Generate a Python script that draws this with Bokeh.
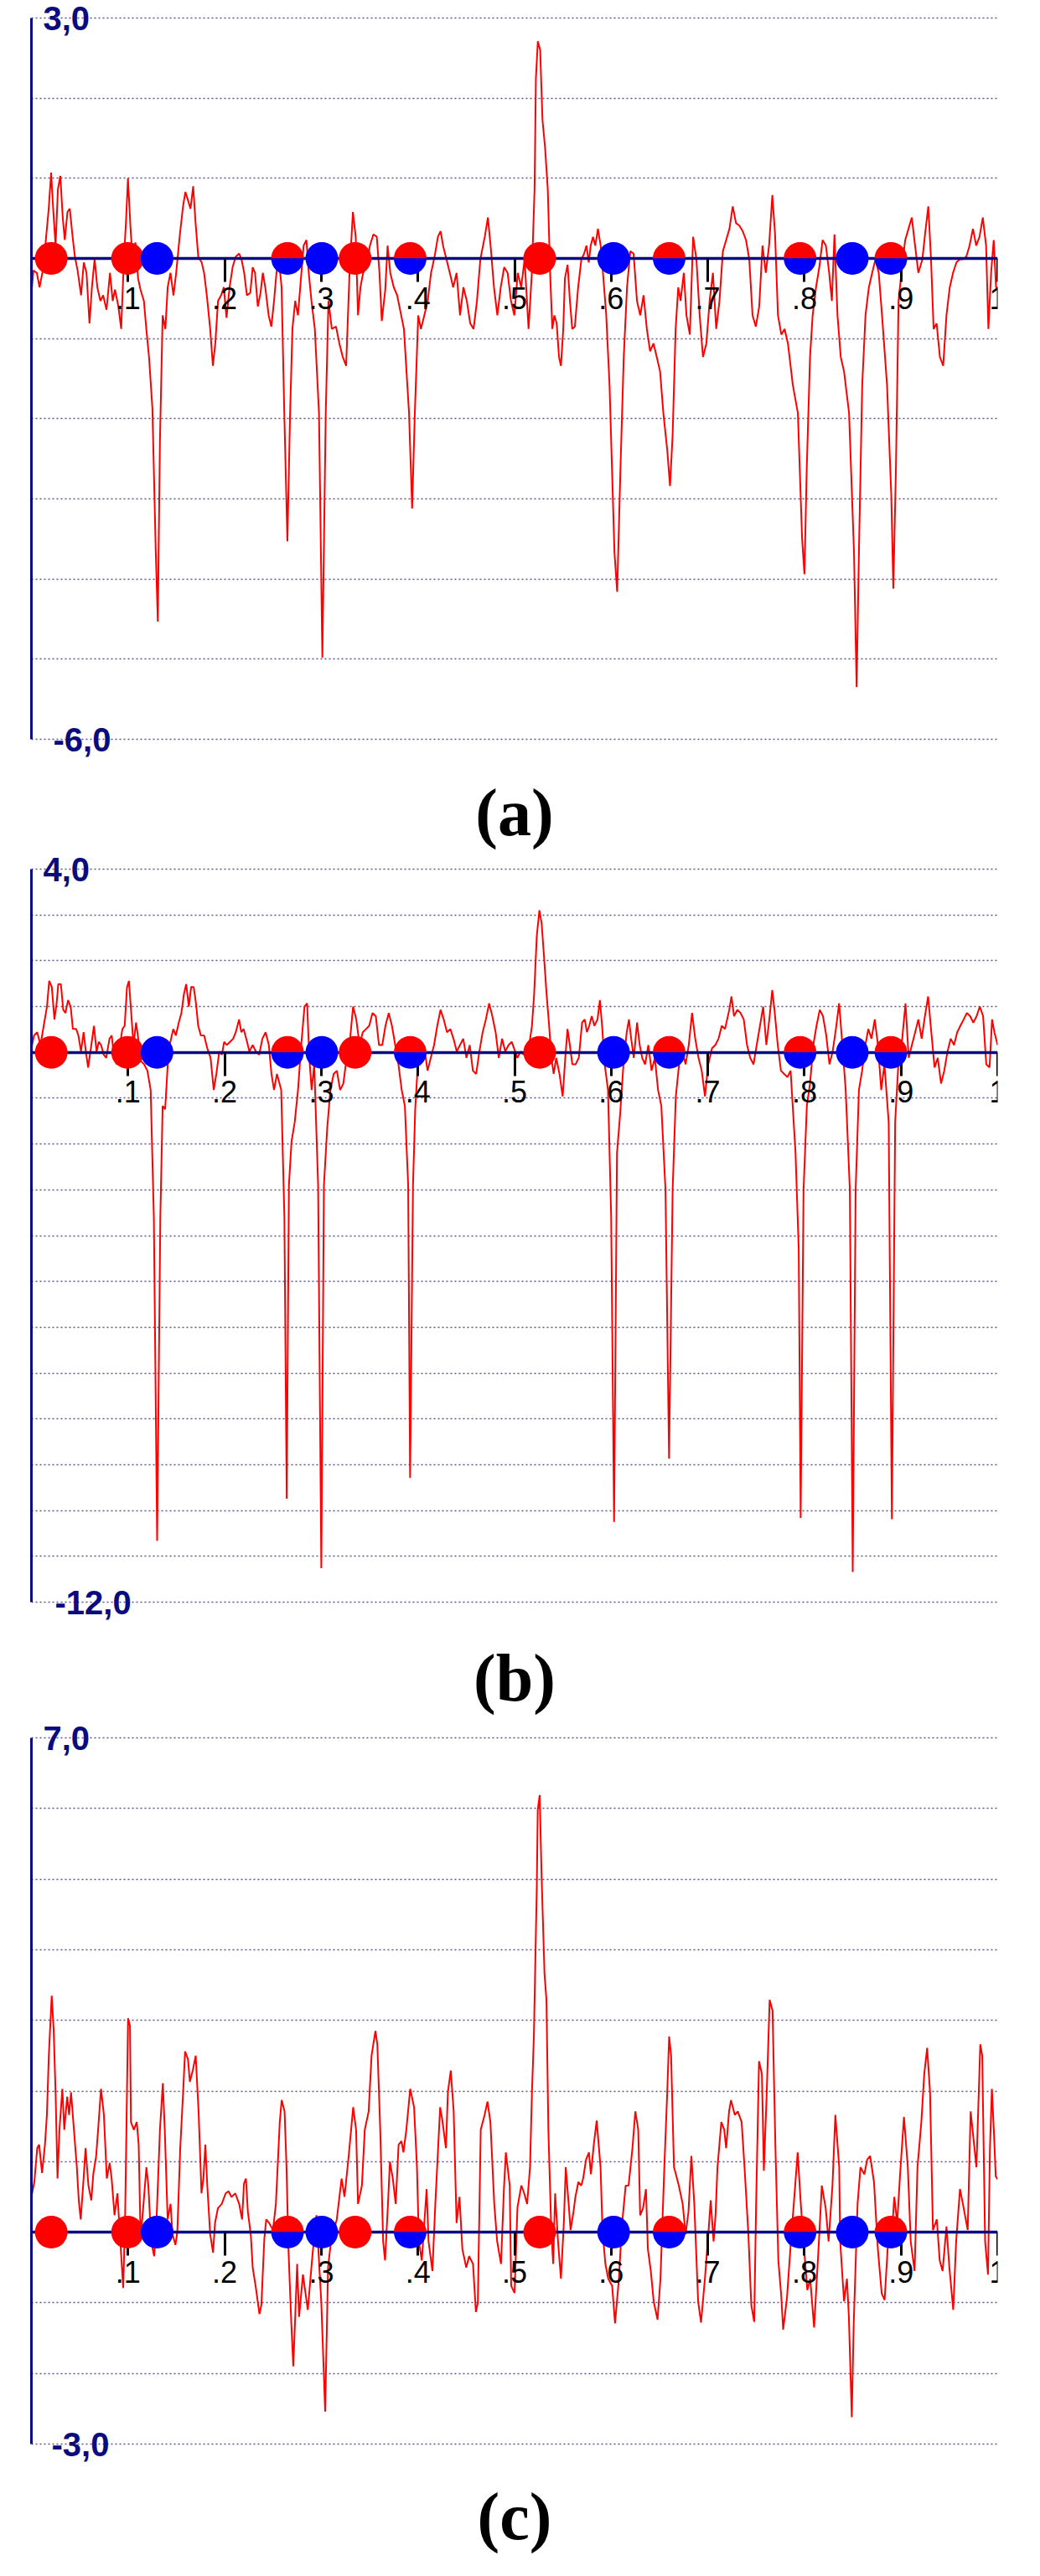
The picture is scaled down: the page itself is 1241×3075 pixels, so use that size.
import math
from bokeh.plotting import figure
from bokeh.models import LinearAxis, FixedTicker, Grid, Label
from bokeh.layouts import column
from bokeh.embed import file_html
from bokeh.resources import INLINE

# ---------------- data ----------------
x_ticks = [0.1, 0.2, 0.3, 0.4, 0.5, 0.6, 0.7, 0.8, 0.9, 1.0]
x_tick_labels = [".1", ".2", ".3", ".4", ".5", ".6", ".7", ".8", ".9", "1"]

marker_x = [0.0205, 0.0995, 0.130, 0.265, 0.3005, 0.335, 0.392, 0.526, 0.6025, 0.660, 0.7955, 0.8495, 0.8895]
marker_kind = ["red", "red", "blue", "half", "blue", "red", "half", "red", "blue", "half", "half", "blue", "half"]

a_y_ticks = [3, -6]
a_y_labels = ["3,0", "-6,0"]
b_y_ticks = [4, -12]
b_y_labels = ["4,0", "-12,0"]
c_y_ticks = [7, -3]
c_y_labels = ["7,0", "-3,0"]

captions = ["(a)", "(b)", "(c)"]

a_signal = [
(0.0,-0.43),(0.0021,-0.15),(0.0056,-0.18),(0.0084,-0.36),(0.0113,-0.18),(0.0144,0.16),(0.0179,0.62),(0.0204,1.07),(0.0225,0.62),(0.025,0.16),(0.0274,0.86),(0.0299,1.03),(0.0324,0.51),(0.0345,0.23),(0.0373,0.58),(0.0397,0.62),(0.0426,0.27),(0.045,0.02),(0.0478,-0.15),(0.0514,-0.46),(0.0542,-0.05),(0.057,-0.18),(0.0601,-0.81),(0.0626,-0.36),(0.0654,-0.01),(0.0682,-0.36),(0.0714,-0.53),(0.0742,-0.46),(0.0777,-0.64),(0.0813,-0.18),(0.0841,-0.53),(0.0865,-0.39),(0.09,-0.6),(0.0929,-0.88),(0.0957,-0.01),(0.0978,0.44),(0.0999,1.0),(0.1024,0.41),(0.1048,-0.05),(0.1076,0.2),(0.1104,-0.25),(0.1129,-0.39),(0.1164,-0.53),(0.1189,-0.88),(0.1217,-1.23),(0.1252,-1.87),(0.1287,-3.67),(0.1308,-4.53),(0.133,-2.28),(0.1358,-0.71),(0.1386,-0.88),(0.141,-0.36),(0.1439,-0.18),(0.147,-0.46),(0.1498,-0.18),(0.1534,0.27),(0.1569,0.65),(0.1593,0.83),(0.1622,0.72),(0.1646,0.62),(0.1674,0.9),(0.1699,0.44),(0.1727,0.02),(0.1762,-0.05),(0.1787,-0.18),(0.1815,-0.46),(0.185,-0.88),(0.1878,-1.34),(0.1903,-1.06),(0.1931,-0.53),(0.1963,-0.46),(0.1991,-0.36),(0.2019,-0.74),(0.2051,-0.36),(0.2082,-0.11),(0.2114,0.02),(0.2149,0.06),(0.2174,-0.01),(0.2202,-0.18),(0.223,-0.46),(0.2265,-0.43),(0.229,-0.11),(0.2314,-0.18),(0.2343,-0.6),(0.2371,-0.43),(0.2395,-0.18),(0.242,-0.36),(0.2455,-0.71),(0.2483,-0.85),(0.2511,-0.53),(0.2536,-0.18),(0.2561,-0.01),(0.2589,-0.36),(0.2617,-1.93),(0.2649,-3.53),(0.2677,-1.93),(0.2701,-0.88),(0.273,-0.53),(0.2758,-0.71),(0.2782,-0.36),(0.2817,0.16),(0.2846,0.23),(0.287,-0.18),(0.2898,-0.53),(0.2933,-0.88),(0.2976,-1.93),(0.3011,-4.98),(0.3046,-1.93),(0.3074,-0.53),(0.3109,-0.88),(0.3152,-0.85),(0.3187,-1.06),(0.3222,-1.23),(0.3257,-1.34),(0.3292,-0.18),(0.3327,0.58),(0.3356,0.27),(0.338,-0.71),(0.3405,-0.36),(0.3433,-0.18),(0.3468,-0.11),(0.3503,0.16),(0.3539,0.3),(0.3574,0.27),(0.3602,-0.18),(0.3626,-0.78),(0.3662,-0.39),(0.3686,0.16),(0.3714,-0.18),(0.375,-0.36),(0.3785,-0.46),(0.382,-0.67),(0.3855,-0.88),(0.3908,-1.93),(0.394,-3.12),(0.3968,-1.93),(0.4003,-0.71),(0.4031,-0.88),(0.4066,-0.71),(0.4101,-0.53),(0.4136,-0.18),(0.4172,0.02),(0.4207,0.27),(0.4235,0.34),(0.426,0.16),(0.4295,-0.01),(0.433,-0.18),(0.4365,-0.36),(0.44,-0.18),(0.4436,-0.71),(0.4471,-0.36),(0.4506,-0.53),(0.4541,-0.81),(0.4576,-0.88),(0.4611,-0.53),(0.4646,-0.01),(0.4692,0.27),(0.4724,0.51),(0.4752,0.16),(0.4787,-0.36),(0.4822,-0.71),(0.4857,-0.36),(0.4893,-0.11),(0.4928,-0.18),(0.4963,-0.53),(0.4998,-0.71),(0.5033,-0.18),(0.5069,-0.36),(0.5104,-0.01),(0.5145,-0.88),(0.5179,-0.18),(0.5207,0.86),(0.5221,2.25),(0.5241,2.71),(0.5265,2.6),(0.5289,1.73),(0.5316,1.38),(0.5344,0.86),(0.5368,-0.18),(0.5391,-0.88),(0.5412,-0.71),(0.5436,-0.81),(0.546,-1.23),(0.548,-1.34),(0.5504,-0.88),(0.5521,-0.25),(0.5549,-0.08),(0.5573,-0.53),(0.5597,-0.88),(0.5624,-0.85),(0.5658,-0.36),(0.5692,-0.01),(0.572,0.06),(0.5744,0.16),(0.5768,-0.05),(0.5788,0.16),(0.5812,0.27),(0.5836,0.16),(0.5863,0.37),(0.5891,0.16),(0.5915,-0.18),(0.5949,-0.71),(0.5983,-1.58),(0.6034,-3.67),(0.6062,-4.16),(0.6096,-2.62),(0.613,-1.23),(0.6164,-0.36),(0.6198,0.09),(0.6232,0.06),(0.6267,-0.53),(0.6301,-0.71),(0.6335,-0.46),(0.6369,-0.88),(0.6403,-1.16),(0.6438,-1.06),(0.6472,-1.23),(0.6506,-1.41),(0.654,-1.93),(0.6581,-2.4),(0.6609,-2.84),(0.6636,-2.2),(0.6667,-0.88),(0.6694,-0.36),(0.6718,-0.53),(0.6752,-0.18),(0.6779,-0.71),(0.6814,-0.95),(0.6848,0.27),(0.6882,-0.01),(0.6916,-0.71),(0.695,-1.23),(0.6985,-1.06),(0.7019,-0.53),(0.7053,-0.18),(0.7087,-0.88),(0.7121,-0.53),(0.7156,0.09),(0.719,0.23),(0.7224,0.37),(0.7258,0.65),(0.7292,0.44),(0.7326,0.41),(0.7361,0.34),(0.7395,0.23),(0.7429,-0.01),(0.7463,-0.71),(0.7497,-0.85),(0.7532,-0.6),(0.7566,0.16),(0.76,-0.18),(0.7634,0.16),(0.7668,0.79),(0.7696,0.3),(0.7726,-0.71),(0.7761,-0.95),(0.7795,-0.88),(0.7829,-1.06),(0.788,-1.58),(0.7932,-1.93),(0.7976,-3.5),(0.8,-3.94),(0.8024,-2.62),(0.8058,-1.23),(0.8085,-0.71),(0.812,-0.36),(0.8154,-0.11),(0.8188,0.23),(0.8222,0.16),(0.8256,-0.18),(0.8284,-0.53),(0.8311,0.3),(0.8342,-0.71),(0.8376,-1.23),(0.841,-1.41),(0.8462,-1.93),(0.8513,-3.67),(0.854,-5.35),(0.8564,-3.67),(0.8598,-1.58),(0.8632,-0.71),(0.8667,-0.36),(0.8701,-0.18),(0.8735,-0.01),(0.8769,-0.18),(0.8803,-0.71),(0.8855,-1.58),(0.8899,-2.96),(0.892,-4.12),(0.8947,-2.62),(0.8974,-0.53),(0.9015,-0.05),(0.9043,0.23),(0.9077,0.37),(0.9111,0.51),(0.9145,0.16),(0.9179,-0.18),(0.9221,-0.01),(0.9248,0.3),(0.9282,0.65),(0.931,-0.01),(0.9337,-0.88),(0.9368,-0.81),(0.9402,-1.23),(0.9436,-1.34),(0.947,-0.71),(0.9504,-0.36),(0.9538,-0.18),(0.9573,-0.05),(0.9607,-0.01),(0.9641,-0.01),(0.9675,0.02),(0.9709,0.16),(0.9744,0.37),(0.9778,0.16),(0.9812,0.27),(0.9846,0.51),(0.988,0.16),(0.9904,-0.88),(0.9932,-0.18),(0.9959,0.23),(0.9983,-0.36),(1.0,-0.36)]

b_signal = [
(0.0,0.09),(0.0027,0.37),(0.006,0.44),(0.0094,0.16),(0.0127,0.58),(0.0161,1.0),(0.0184,1.56),(0.0211,1.43),(0.0238,0.72),(0.0261,1.07),(0.0278,1.49),(0.0305,1.49),(0.0329,0.93),(0.0352,0.86),(0.0379,1.14),(0.0406,1.0),(0.0429,0.51),(0.0463,0.51),(0.0486,0.37),(0.0513,0.02),(0.054,0.44),(0.0563,0.02),(0.0587,-0.33),(0.062,0.16),(0.0647,0.58),(0.0674,0.02),(0.0697,0.23),(0.0721,0.16),(0.0748,-0.05),(0.0774,-0.12),(0.0808,0.3),(0.0831,0.37),(0.0855,-0.12),(0.0882,-0.26),(0.0915,0.16),(0.0942,0.51),(0.0965,0.58),(0.0989,1.42),(0.1009,1.56),(0.1033,0.86),(0.1056,0.16),(0.1083,0.65),(0.111,0.23),(0.1133,-0.19),(0.1167,-0.26),(0.12,-0.4),(0.1234,-0.82),(0.1267,-3.6),(0.1301,-10.66),(0.1334,-3.6),(0.1358,-1.17),(0.1384,-1.24),(0.1411,-0.26),(0.1438,0.23),(0.1468,0.51),(0.1495,0.37),(0.1525,0.65),(0.1552,0.86),(0.1579,1.28),(0.1602,1.49),(0.1629,1.0),(0.1653,1.43),(0.168,1.42),(0.1703,1.07),(0.1726,0.58),(0.1753,0.37),(0.1787,0.37),(0.182,0.09),(0.1854,-0.12),(0.1887,-0.82),(0.1914,-0.47),(0.1944,0.02),(0.1971,-0.05),(0.1995,0.23),(0.2021,0.16),(0.2055,0.23),(0.2088,0.3),(0.2115,0.44),(0.2149,0.72),(0.2172,0.44),(0.2196,0.51),(0.2223,0.3),(0.2256,0.02),(0.229,0.16),(0.2323,0.02),(0.2357,-0.05),(0.239,0.3),(0.2424,0.44),(0.2457,0.16),(0.2484,-0.47),(0.2511,-0.82),(0.2541,-0.47),(0.2585,-0.82),(0.2618,-3.6),(0.2642,-9.74),(0.2665,-2.9),(0.2692,-1.94),(0.2725,-1.52),(0.2759,-0.82),(0.2792,0.16),(0.2826,1.0),(0.2853,1.07),(0.2876,-0.12),(0.29,-0.82),(0.2927,-0.26),(0.2967,-2.9),(0.3,-11.26),(0.3027,-2.9),(0.3061,-1.66),(0.3094,-0.82),(0.3128,-0.47),(0.3161,-0.4),(0.3195,-0.82),(0.3228,-0.68),(0.3262,-0.12),(0.3295,0.23),(0.3329,1.0),(0.3362,0.72),(0.3396,0.16),(0.3429,0.44),(0.3463,0.51),(0.3496,0.58),(0.353,0.86),(0.3564,0.79),(0.3597,0.16),(0.3631,0.16),(0.3664,0.58),(0.3698,0.86),(0.3731,0.58),(0.3765,0.16),(0.3798,-0.26),(0.3832,-0.82),(0.3865,-1.17),(0.3899,-2.9),(0.3919,-9.29),(0.3949,-2.9),(0.3972,-1.24),(0.3999,-0.26),(0.4033,-0.12),(0.4066,0.09),(0.41,-0.4),(0.4133,-0.12),(0.4167,0.16),(0.42,0.58),(0.4234,0.93),(0.4267,0.72),(0.4301,0.44),(0.4335,0.51),(0.4368,0.3),(0.4402,0.02),(0.4435,0.16),(0.4469,0.3),(0.4502,-0.12),(0.4536,0.16),(0.4569,-0.4),(0.4603,-0.47),(0.4636,0.02),(0.467,0.44),(0.4703,0.72),(0.4737,1.07),(0.477,0.79),(0.4804,0.44),(0.4837,-0.12),(0.4871,0.3),(0.4904,0.02),(0.4938,0.16),(0.4971,0.23),(0.5029,-0.12),(0.5063,0.02),(0.5096,-0.05),(0.5147,0.09),(0.518,0.58),(0.5203,1.28),(0.523,2.54),(0.5257,3.1),(0.528,2.82),(0.5304,2.12),(0.5331,1.28),(0.5358,0.58),(0.5381,-0.12),(0.5405,-0.47),(0.5431,-0.12),(0.5465,-0.47),(0.5498,-0.96),(0.5525,-0.12),(0.5548,0.51),(0.5572,0.16),(0.5598,-0.26),(0.5632,-0.26),(0.5665,-0.12),(0.5699,0.65),(0.5726,0.72),(0.5749,0.44),(0.5773,0.58),(0.5799,0.79),(0.5826,0.58),(0.5859,0.72),(0.5883,1.14),(0.5906,0.58),(0.5933,-0.26),(0.5967,-0.82),(0.6,-3.6),(0.603,-10.25),(0.606,-2.2),(0.6094,-1.31),(0.6127,-0.26),(0.6161,0.44),(0.6184,0.72),(0.6207,0.3),(0.6234,-0.12),(0.6268,0.65),(0.6295,0.16),(0.6321,-0.12),(0.6351,-0.26),(0.6385,0.16),(0.6418,-0.4),(0.6452,-0.12),(0.6485,-0.82),(0.6519,-1.17),(0.6562,-3.0),(0.6599,-8.87),(0.6636,-3.0),(0.6669,-0.96),(0.6703,-0.26),(0.6737,0.02),(0.677,-0.26),(0.6803,0.16),(0.6837,0.86),(0.687,0.3),(0.6904,-0.12),(0.6937,-0.4),(0.6971,-0.96),(0.7004,-0.26),(0.7044,0.09),(0.7078,0.16),(0.7111,0.3),(0.7145,0.58),(0.7178,0.51),(0.7222,0.93),(0.7245,1.22),(0.7272,0.79),(0.7306,0.93),(0.7339,0.86),(0.7372,0.72),(0.7406,0.16),(0.7439,-0.12),(0.7473,-0.26),(0.7506,0.16),(0.754,0.58),(0.7573,1.0),(0.7606,0.16),(0.764,0.79),(0.7667,1.36),(0.769,0.93),(0.7724,0.16),(0.7757,-0.4),(0.779,-0.47),(0.7824,-0.54),(0.7857,-0.4),(0.7908,-2.2),(0.7941,-4.3),(0.7961,-10.16),(0.7991,-3.0),(0.8025,-1.17),(0.8058,-0.68),(0.8092,0.16),(0.8125,0.58),(0.8159,0.93),(0.8192,0.79),(0.8226,0.37),(0.8259,-0.26),(0.8292,0.02),(0.8326,0.51),(0.8359,1.07),(0.8393,0.16),(0.8427,-0.82),(0.847,-3.0),(0.85,-11.34),(0.853,-3.0),(0.8564,-0.82),(0.8597,-0.4),(0.8631,0.16),(0.8661,0.51),(0.8694,0.3),(0.8728,0.72),(0.8761,0.16),(0.8795,-0.82),(0.8828,-0.26),(0.8872,-1.52),(0.8905,-10.19),(0.8939,-1.52),(0.8972,-0.26),(0.9012,0.3),(0.9046,1.07),(0.9079,-0.12),(0.9112,0.16),(0.9146,0.44),(0.9179,0.72),(0.9213,0.3),(0.9247,0.79),(0.928,1.22),(0.9313,0.44),(0.9347,-0.33),(0.938,-0.12),(0.9414,-0.68),(0.9447,-0.4),(0.9481,0.02),(0.9514,0.3),(0.9548,0.16),(0.9581,0.44),(0.9614,0.58),(0.9648,0.72),(0.9681,0.86),(0.9715,0.79),(0.9748,0.65),(0.9782,0.79),(0.9815,1.0),(0.9849,0.79),(0.9882,-0.26),(0.9916,-0.33),(0.9942,0.72),(0.9966,0.44),(1.0,0.16)]

c_signal = [
(0.0,0.5),(0.003,0.71),(0.006,1.19),(0.008,1.24),(0.011,0.84),(0.014,1.24),(0.016,1.66),(0.018,2.5),(0.021,3.35),(0.023,2.87),(0.025,1.98),(0.027,0.76),(0.029,1.45),(0.032,2.03),(0.034,1.45),(0.037,1.92),(0.039,1.66),(0.041,1.98),(0.044,1.45),(0.047,0.92),(0.049,0.45),(0.051,0.18),(0.054,0.76),(0.056,1.19),(0.059,0.66),(0.062,0.45),(0.064,0.82),(0.067,1.08),(0.069,1.45),(0.072,2.03),(0.075,1.66),(0.078,0.76),(0.081,0.98),(0.083,0.76),(0.086,0.24),(0.089,0.55),(0.092,-0.13),(0.095,-0.79),(0.097,0.24),(0.1,3.03),(0.102,2.92),(0.103,1.56),(0.106,1.45),(0.109,1.56),(0.111,1.24),(0.113,-0.08),(0.116,0.4),(0.119,0.92),(0.121,0.66),(0.124,-0.13),(0.127,-0.34),(0.129,0.0),(0.133,1.45),(0.136,2.11),(0.138,1.45),(0.141,0.18),(0.144,0.4),(0.146,-0.03),(0.149,-0.18),(0.151,0.0),(0.154,1.19),(0.157,1.98),(0.159,2.56),(0.162,2.45),(0.164,2.13),(0.167,2.29),(0.17,2.5),(0.173,1.71),(0.176,0.55),(0.178,0.76),(0.18,1.24),(0.182,0.66),(0.185,-0.03),(0.188,-0.29),(0.19,0.13),(0.193,0.34),(0.197,0.4),(0.201,0.55),(0.204,0.58),(0.207,0.5),(0.211,0.55),(0.215,0.4),(0.218,0.18),(0.22,0.69),(0.222,0.76),(0.224,0.29),(0.227,-0.03),(0.229,-0.5),(0.232,-0.76),(0.236,-1.16),(0.238,-1.03),(0.241,-0.1),(0.243,0.18),(0.246,0.13),(0.25,0.03),(0.253,0.4),(0.257,1.56),(0.259,1.87),(0.262,1.71),(0.264,0.92),(0.266,-0.24),(0.269,-1.3),(0.271,-1.9),(0.273,-1.2),(0.275,-0.45),(0.277,-1.2),(0.281,-0.6),(0.286,-1.1),(0.291,-0.3),(0.295,0.24),(0.3,-1.0),(0.304,-2.54),(0.307,-0.5),(0.31,-0.13),(0.316,0.18),(0.321,0.76),(0.324,0.5),(0.328,1.03),(0.333,1.77),(0.336,1.45),(0.338,0.4),(0.342,0.66),(0.345,1.45),(0.349,1.71),(0.352,2.5),(0.356,2.85),(0.358,2.66),(0.361,1.45),(0.364,-0.13),(0.366,-0.4),(0.369,0.4),(0.371,1.0),(0.374,0.76),(0.377,0.4),(0.38,1.24),(0.383,1.29),(0.385,1.13),(0.388,1.45),(0.392,2.03),(0.396,1.77),(0.399,0.92),(0.401,-0.13),(0.404,-0.4),(0.409,0.61),(0.411,-0.13),(0.415,-0.55),(0.418,0.4),(0.423,1.77),(0.425,1.61),(0.429,1.19),(0.431,1.98),(0.434,2.29),(0.437,1.71),(0.44,0.13),(0.443,0.5),(0.446,-0.24),(0.45,-0.5),(0.453,-0.34),(0.457,-0.45),(0.46,-1.13),(0.462,-1.0),(0.465,1.45),(0.469,1.66),(0.472,1.85),(0.475,1.56),(0.479,0.4),(0.482,-0.13),(0.486,-0.45),(0.489,0.61),(0.491,1.13),(0.495,0.66),(0.4965,-0.76),(0.5,-0.86),(0.503,0.35),(0.507,0.66),(0.51,0.55),(0.513,0.4),(0.516,0.92),(0.518,1.98),(0.52,2.77),(0.523,4.88),(0.524,5.98),(0.526,6.19),(0.528,5.03),(0.531,3.66),(0.533,3.29),(0.535,1.45),(0.538,0.03),(0.54,-0.45),(0.542,0.55),(0.545,-0.13),(0.548,-0.66),(0.551,0.13),(0.553,0.92),(0.556,0.4),(0.558,0.03),(0.561,0.29),(0.563,0.5),(0.566,0.71),(0.569,0.66),(0.571,0.76),(0.574,1.03),(0.577,1.13),(0.579,0.82),(0.582,1.24),(0.585,1.58),(0.589,0.92),(0.591,0.03),(0.594,-0.45),(0.597,-0.66),(0.601,-0.76),(0.604,-1.29),(0.608,-0.66),(0.611,0.08),(0.615,0.66),(0.618,0.66),(0.622,1.19),(0.625,1.71),(0.628,1.45),(0.63,0.24),(0.633,0.34),(0.636,0.61),(0.638,-0.24),(0.641,-0.55),(0.644,-0.98),(0.648,-1.24),(0.651,-0.66),(0.655,0.92),(0.658,1.98),(0.66,2.77),(0.662,2.5),(0.665,0.92),(0.667,0.82),(0.67,0.66),(0.674,0.4),(0.677,-0.03),(0.68,0.29),(0.683,1.08),(0.686,0.4),(0.69,-0.98),(0.693,-1.28),(0.697,-0.66),(0.7,-0.13),(0.703,0.45),(0.706,-0.13),(0.708,0.24),(0.71,0.92),(0.714,1.56),(0.717,1.45),(0.719,1.19),(0.722,1.71),(0.724,1.87),(0.728,1.66),(0.731,1.71),(0.735,1.56),(0.738,0.92),(0.742,-0.03),(0.745,-1.03),(0.748,-1.27),(0.75,0.4),(0.753,2.42),(0.756,2.24),(0.758,0.87),(0.761,1.98),(0.764,3.29),(0.767,3.14),(0.77,1.19),(0.773,-0.4),(0.776,-0.9),(0.778,-1.38),(0.782,-0.92),(0.786,-0.13),(0.789,0.4),(0.793,1.13),(0.796,0.45),(0.799,-0.13),(0.803,-0.82),(0.806,-0.66),(0.81,-1.35),(0.815,-0.13),(0.818,0.66),(0.822,0.34),(0.825,-0.13),(0.829,0.66),(0.832,1.66),(0.836,0.92),(0.837,-0.13),(0.841,-0.98),(0.844,-0.66),(0.846,-1.2),(0.849,-2.62),(0.851,-1.3),(0.855,0.4),(0.858,0.92),(0.862,0.82),(0.865,1.03),(0.868,1.08),(0.872,0.71),(0.876,-0.24),(0.88,-0.87),(0.883,-0.96),(0.887,-0.03),(0.89,-0.13),(0.893,0.5),(0.896,0.13),(0.899,0.82),(0.903,1.63),(0.907,0.92),(0.91,-0.13),(0.914,-0.55),(0.917,0.92),(0.921,1.56),(0.924,2.24),(0.927,2.61),(0.93,1.98),(0.933,0.03),(0.937,0.18),(0.94,-0.4),(0.943,-0.55),(0.947,0.08),(0.95,-0.5),(0.954,-1.1),(0.957,-0.13),(0.961,0.61),(0.964,0.4),(0.969,0.03),(0.972,1.71),(0.976,1.19),(0.978,0.92),(0.982,2.66),(0.984,2.5),(0.987,-0.13),(0.99,-0.6),(0.992,1.19),(0.994,2.03),(0.996,1.45),(0.998,0.79),(1.0,0.75)]

# ---------------- styles / layout ----------------
NAVY = "#0b0b80"
GRID_COLOR = "#55558f"
RED = "#ff0000"
BLUE = "#0000ff"
PAGE_W = 1225


def make_panel(signal, y_lo, y_hi, y_ticks, y_labels, caption, height,
               left, right, pad_top, pad_bottom, cap_dy, neg_label_dx):
    # pixels per data unit of the plotted value range
    ppu = (height - pad_top - pad_bottom) / (y_hi - y_lo)
    r_lo = y_lo - pad_bottom / ppu
    r_hi = y_hi + pad_top / ppu
    p = figure(width=PAGE_W, height=height, x_range=(0, 1), y_range=(r_lo, r_hi),
               output_backend="svg", toolbar_location=None,
               x_axis_location=None, y_axis_location=None,
               min_border_left=left, min_border_right=right,
               min_border_top=0, min_border_bottom=0,
               outline_line_color=None, background_fill_color="white",
               border_fill_color="white")
    p.xgrid.visible = False
    p.ygrid.visible = False

    grid = Grid(dimension=1, ticker=FixedTicker(ticks=list(range(y_lo, y_hi + 1))),
                grid_line_color=GRID_COLOR, grid_line_width=1.5, grid_line_dash="2 3")
    p.add_layout(grid)

    yax = LinearAxis(ticker=FixedTicker(ticks=[]), bounds=(y_lo, y_hi),
                     axis_line_color=NAVY, axis_line_width=3,
                     major_tick_line_color=None, minor_tick_line_color=None,
                     major_label_text_font_size="0px")
    p.add_layout(yax, "left")

    xax = LinearAxis(fixed_location=0, ticker=FixedTicker(ticks=x_ticks),
                     major_label_overrides=dict(zip(x_ticks, x_tick_labels)),
                     axis_line_color=NAVY, axis_line_width=3.5,
                     major_tick_in=0, major_tick_out=28,
                     major_tick_line_color="black", major_tick_line_width=3,
                     minor_tick_line_color=None,
                     major_label_text_font="Liberation Sans",
                     major_label_text_font_size="36px",
                     major_label_text_color="black",
                     major_label_text_align="left",
                     major_label_standoff=6)
    p.add_layout(xax, "below")

    xs = [pt[0] for pt in signal]
    ys = [pt[1] for pt in signal]
    p.line(xs, ys, line_color=RED, line_width=2)

    red_x = [x for x, k in zip(marker_x, marker_kind) if k == "red"]
    blue_x = [x for x, k in zip(marker_x, marker_kind) if k == "blue"]
    half_x = [x for x, k in zip(marker_x, marker_kind) if k == "half"]
    p.scatter(red_x, [0] * len(red_x), size=39, fill_color=RED, line_color=None, level="overlay")
    p.scatter(blue_x, [0] * len(blue_x), size=39, fill_color=BLUE, line_color=None, level="overlay")
    p.wedge(half_x, [0] * len(half_x), radius=19.5, radius_units="screen",
            start_angle=0, end_angle=math.pi, fill_color=RED, line_color=None, level="overlay")
    p.wedge(half_x, [0] * len(half_x), radius=19.5, radius_units="screen",
            start_angle=math.pi, end_angle=2 * math.pi, fill_color=BLUE, line_color=None, level="overlay")

    for i, (yv, lab) in enumerate(zip(y_ticks, y_labels)):
        p.add_layout(Label(x=0, y=yv, text=lab, x_offset=14 if i == 0 else neg_label_dx,
                           text_align="left", text_baseline="middle",
                           text_font="Liberation Sans", text_font_style="bold",
                           text_font_size="40px", text_color=NAVY))

    p.add_layout(Label(x=0.5, y=pad_bottom - cap_dy, x_units="data", y_units="screen",
                       text=caption, text_align="center", text_baseline="middle",
                       text_font="Liberation Serif", text_font_style="bold",
                       text_font_size="80px", text_color="black"))
    return p


pa = make_panel(a_signal, -6, 3, a_y_ticks, a_y_labels, captions[0], 1017,
                29, 35, 21, 135, 87, 26)
pb = make_panel(b_signal, -12, 4, b_y_ticks, b_y_labels, captions[1], 1035,
                22, 22, 20, 140, 90, 28)
pc = make_panel(c_signal, -3, 7, c_y_ticks, c_y_labels, captions[2], 1007,
                37, 29, 22, 142, 86, 24)

layout = column(pa, pb, pc, spacing=0)
open("out.html", "w").write(file_html(layout, INLINE))
